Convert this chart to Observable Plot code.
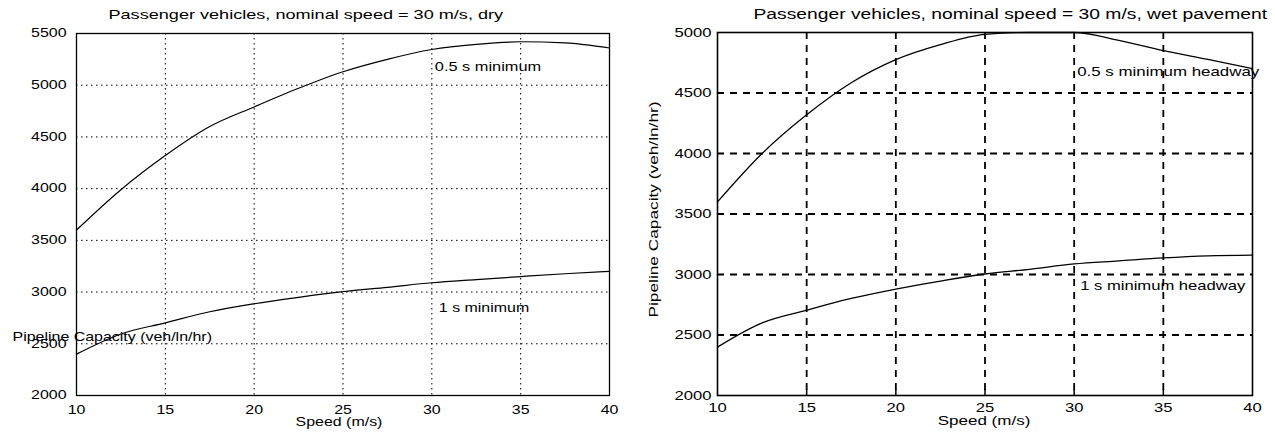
<!DOCTYPE html>
<html><head><meta charset="utf-8">
<script src="https://cdn.jsdelivr.net/npm/d3@7"></script>
<script src="https://cdn.jsdelivr.net/npm/@observablehq/plot@0.6"></script>
<style>
body{margin:0;background:#fff;}
#wrap{position:relative;width:1275px;height:442px;overflow:hidden;background:#fff;}
#left{position:absolute;left:0;top:0;}
#right{position:absolute;left:640px;top:0;}
</style></head><body>
<div id="wrap"><div id="left"></div><div id="right"></div></div>
<script>
// ---- data ----
const speed   = [10, 12.5, 15, 17.5, 20, 22.5, 25, 27.5, 30, 32.5, 35, 37.5, 40];
const dryHalf = [3600, 3990, 4320, 4600, 4790, 4970, 5130, 5250, 5345, 5395, 5420, 5410, 5360];
const dryOne  = [2400, 2595, 2702, 2810, 2887, 2949, 3004, 3046, 3090, 3121, 3150, 3177, 3200];
const wetHalf = [3600, 4000, 4320, 4585, 4776, 4900, 4985, 5000, 5000, 4935, 4850, 4777, 4702];
const wetOne  = [2400, 2600, 2705, 2802, 2880, 2946, 3004, 3043, 3087, 3112, 3137, 3154, 3160];

const xTicks    = [10, 15, 20, 25, 30, 35, 40];
const yTicksDry = [2000, 2500, 3000, 3500, 4000, 4500, 5000, 5500];
const yTicksWet = [2000, 2500, 3000, 3500, 4000, 4500, 5000];

const titleDry = "Passenger vehicles, nominal speed = 30 m/s, dry";
const titleWet = "Passenger vehicles, nominal speed = 30 m/s, wet pavement";
const xLabel = "Speed (m/s)";
const yLabel = "Pipeline Capacity (veh/ln/hr)";
const labelsDry = ["0.5 s minimum", "1 s minimum"];
const labelsWet = ["0.5 s minimum headway", "1 s minimum headway"];

const rows = (ys) => speed.map((s, i) => ({speed: s, cap: ys[i]}));
const FONT = "'Liberation Sans', Arial, Helvetica, sans-serif";
const STRETCH = 1.33;
const fmt = d3.format("d");

function stretch(svg, k) {
  svg.querySelectorAll("text").forEach(t => {
    const tr = t.getAttribute("transform");
    if (tr) t.setAttribute("transform", tr + ` scale(${k},1)`);
  });
}

// ---- left: dry ----
const dotted = {stroke: "#000", strokeOpacity: 1, strokeWidth: 1, strokeDasharray: "1.5,3.5"};
const left = Plot.plot({
  width: 640, height: 442,
  marginLeft: 76, marginRight: 31, marginTop: 33, marginBottom: 47,
  style: {fontFamily: FONT, fontSize: "12px", color: "#000", background: "#fff", overflow: "visible"},
  x: {domain: [10, 40]},
  y: {domain: [2000, 5500]},
  marks: [
    Plot.gridX(xTicks, dotted),
    Plot.gridY(yTicksDry, dotted),
    Plot.frame({stroke: "#000", strokeWidth: 1.3}),
    Plot.axisX(xTicks, {tickSize: 0, tickPadding: 10, label: null, tickFormat: fmt}),
    Plot.axisY(yTicksDry, {tickSize: 0, tickPadding: 10, label: null, tickFormat: fmt}),
    Plot.line(rows(dryHalf), {x: "speed", y: "cap", curve: "monotone-x", stroke: "#000", strokeWidth: 1.2}),
    Plot.line(rows(dryOne),  {x: "speed", y: "cap", curve: "monotone-x", stroke: "#000", strokeWidth: 1.2}),
    Plot.text([titleDry], {text: d => d, frameAnchor: "top-left", textAnchor: "start", lineAnchor: "middle", dx: 32, dy: -19, fontSize: 13.6}),
    Plot.text([xLabel], {text: d => d, frameAnchor: "bottom", textAnchor: "middle", lineAnchor: "middle", dx: -4, dy: 27, fontSize: 12}),
    Plot.text([yLabel], {text: d => d, x: () => 10, y: () => 2560, textAnchor: "start", lineAnchor: "middle", dx: -64, fontSize: 12}),
    Plot.text([labelsDry[0]], {text: d => d, x: () => 30, y: () => 5175, textAnchor: "start", lineAnchor: "middle", dx: 3, fontSize: 12.3}),
    Plot.text([labelsDry[1]], {text: d => d, x: () => 30, y: () => 2842, textAnchor: "start", lineAnchor: "middle", dx: 7, fontSize: 12})
  ]
});
stretch(left, STRETCH);
document.getElementById("left").appendChild(left);

// ---- right: wet ----
const dashed = {stroke: "#000", strokeOpacity: 1, strokeWidth: 1.8, strokeDasharray: "7,6"};
const right = Plot.plot({
  width: 635, height: 442,
  marginLeft: 77, marginRight: 23, marginTop: 32, marginBottom: 47,
  style: {fontFamily: FONT, fontSize: "12.5px", color: "#000", background: "#fff", overflow: "visible"},
  x: {domain: [10, 40]},
  y: {domain: [2000, 5000]},
  marks: [
    Plot.gridX(xTicks.slice(1, -1), dashed),
    Plot.gridY(yTicksWet.slice(1, -1), dashed),
    Plot.frame({stroke: "#000", strokeWidth: 1.6}),
    Plot.axisX(xTicks.slice(1, -1), {tickSize: -6, tickFormat: () => "", label: null, strokeWidth: 1.5}),
    Plot.axisX(xTicks, {tickSize: 0, tickPadding: 8, label: null, tickFormat: fmt}),
    Plot.axisY(yTicksWet, {tickSize: 0, tickPadding: 6, label: null, tickFormat: fmt}),
    Plot.line(rows(wetHalf), {x: "speed", y: "cap", curve: "monotone-x", stroke: "#000", strokeWidth: 1.3}),
    Plot.line(rows(wetOne),  {x: "speed", y: "cap", curve: "monotone-x", stroke: "#000", strokeWidth: 1.3}),
    Plot.text([titleWet], {text: d => d, frameAnchor: "top-left", textAnchor: "start", lineAnchor: "middle", dx: 36, dy: -18, fontSize: 14.5}),
    Plot.text([xLabel], {text: d => d, frameAnchor: "bottom", textAnchor: "middle", lineAnchor: "middle", dx: -1, dy: 25.5, fontSize: 12.8}),
    Plot.text([yLabel], {text: d => d, frameAnchor: "left", textAnchor: "middle", rotate: -90, lineAnchor: "middle", dx: -64, dy: -4.5, fontSize: 13}),
    Plot.text([labelsWet[0]], {text: d => d, x: () => 30, y: () => 4674, textAnchor: "start", lineAnchor: "middle", dx: 3, fontSize: 12.7}),
    Plot.text([labelsWet[1]], {text: d => d, x: () => 30, y: () => 2901, textAnchor: "start", lineAnchor: "middle", dx: 6, fontSize: 12.5})
  ]
});
stretch(right, STRETCH);
document.getElementById("right").appendChild(right);
</script>
</body></html>
